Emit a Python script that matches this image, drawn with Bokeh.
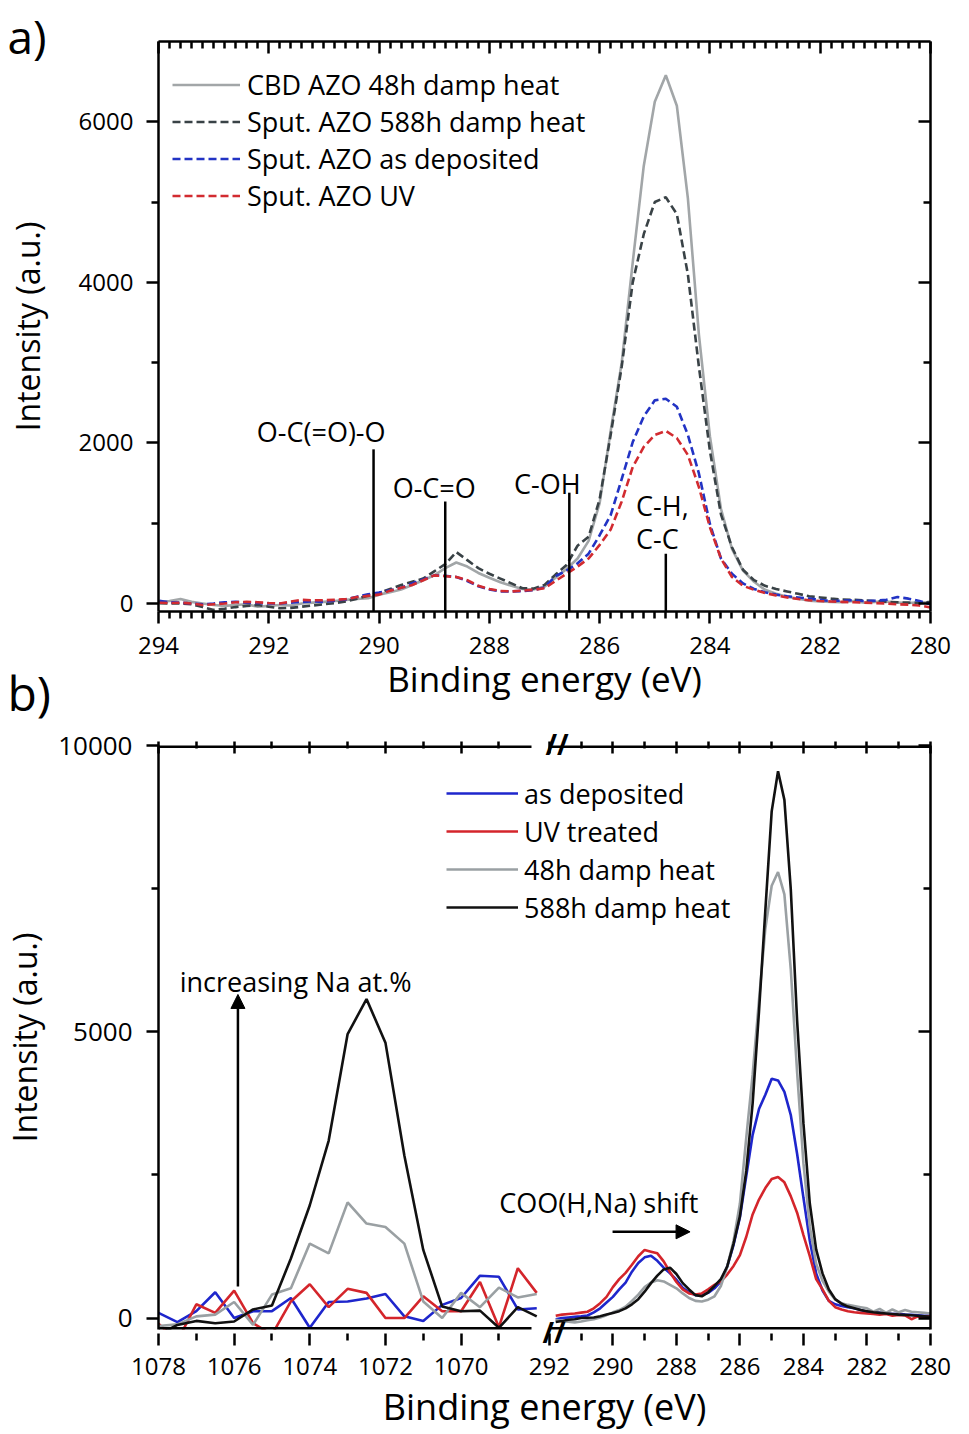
from bokeh.plotting import figure
from bokeh.models import (Range1d, LinearAxis, FixedTicker, Legend, LegendItem,
                          Label, Arrow, NormalHead, Title)
from bokeh.layouts import column
from bokeh.embed import file_html
from bokeh.resources import INLINE

FONT = "Open Sans"

# ---------------- panel a: C 1s, sputtered vs CBD AZO ----------------
energy_a = [294.2, 294.0, 293.8, 293.6, 293.4, 293.2, 293.0, 292.8, 292.6, 292.4,
            292.2, 292.0, 291.8, 291.6, 291.4, 291.2, 291.0, 290.8, 290.6, 290.4,
            290.2, 290.0, 289.8, 289.6, 289.4, 289.2, 289.0, 288.8, 288.6, 288.4,
            288.2, 288.0, 287.8, 287.6, 287.4, 287.2, 287.0, 286.8, 286.6, 286.4,
            286.2, 286.0, 285.8, 285.6, 285.4, 285.2, 285.0, 284.8, 284.6, 284.4,
            284.2, 284.0, 283.8, 283.6, 283.4, 283.2, 283.0, 282.8, 282.6, 282.4,
            282.2, 282.0, 281.8, 281.6, 281.4, 281.2, 281.0, 280.8, 280.6, 280.4,
            280.2, 280.0, 279.8]
cbd_48h = [10, 20, 30, 55, 20, 0, -20, -30, -20, -10,
           -40, -30, -20, -25, 0, 10, 20, 30, 45, 55,
           65, 110, 140, 175, 230, 290, 350, 440, 510, 460,
           380, 320, 265, 220, 180, 175, 210, 320, 430, 560,
           780, 1250, 2150, 3000, 4250, 5450, 6250, 6580, 6200, 5050,
           3350, 2080, 1180, 680, 410, 270, 170, 120, 85, 60,
           35, 25, 20, 15, 30, 10, 20, 25, 10, 5,
           15, 10, 20]
sput_588h = [10, 5, 0, 0, -10, -45, -80, -65, -45, -30,
             -20, -40, -60, -55, -40, -25, -10, 5, 25, 60,
             95, 130, 180, 230, 270, 310, 400, 490, 640, 540,
             440, 370, 310, 250, 190, 185, 230, 360, 480, 720,
             830, 1300, 2100, 2950, 4000, 4600, 5000, 5060, 4850, 4100,
             2950, 1900, 1110, 700, 420, 290, 220, 180, 150, 120,
             90, 75, 60, 50, 45, 40, 30, 20, 15, 10,
             5, 20, 40]
sput_as_dep = [55, 35, 15, 10, 0, -10, 0, 15, 20, 10,
               5, 0, 0, 10, 20, 25, 20, 35, 50, 85,
               115, 135, 165, 195, 250, 300, 350, 345, 330, 280,
               215, 175, 150, 150, 155, 165, 200, 340, 410, 500,
               620, 850, 1100, 1550, 2010, 2330, 2530, 2550, 2450, 2100,
               1620, 990, 560, 370, 250, 180, 140, 110, 90, 75,
               60, 45, 30, 35, 40, 30, 35, 45, 80, 60,
               30, -10, 50]
sput_uv = [15, 10, 5, 10, 0, -20, -10, 0, 15, 20,
           15, 5, 0, 25, 45, 40, 40, 45, 55, 80,
           95, 110, 160, 195, 230, 290, 350, 340, 330, 290,
           220, 180, 155, 150, 160, 170, 190, 280, 370, 460,
           560, 730, 920, 1270, 1700, 1950, 2100, 2150, 2060, 1850,
           1450, 950, 560, 330, 220, 170, 130, 100, 75, 55,
           40, 30, 25, 20, 15, 10, 5, 0, -10, -15,
           -25, -50, -20]

marker_energy = [290.1, 288.8, 286.55, 284.8]
marker_top = [1920, 1270, 1380, 620]
marker_text = ["O-C(=O)-O", "O-C=O", "C-OH", "C-H,", "C-C"]
marker_text_x = [291.05, 289.0, 286.95, 285.34, 285.34]
marker_text_y = [2137, 1441, 1491, 1217, 807]
marker_text_align = ["center", "center", "center", "left", "left"]

xticks_a = [294, 292, 290, 288, 286, 284, 282, 280]
yticks_a = [0, 2000, 4000, 6000]
yminor_a = [1000, 3000, 5000]

# ---------------- panel b: Na region (left) and C 1s (right) ----------------
energy_na = [1078.5, 1078.0, 1077.5, 1077.0, 1076.5, 1076.0, 1075.5, 1075.0, 1074.5, 1074.0,
             1073.5, 1073.0, 1072.5, 1072.0, 1071.5, 1071.0, 1070.5, 1070.0, 1069.5, 1069.0,
             1068.5, 1068.0]
na_as_dep = [380, 90, -70, 120, 450, 0, 120, 120, 350, -170,
             280, 290, 340, 420, 30, -50, 230, 350, 740, 720, 150, 170]
na_uv = [-160, -100, -400, 240, 90, 480, -90, -290, 290, 590,
         190, 510, 440, 0, 0, 380, 120, 120, 630, -160, 870, 440]
na_48h = [-290, -140, -110, 30, 60, 280, -120, 410, 520, 1300,
          1130, 2020, 1650, 1590, 1300, 290, 0, 440, 190, 530, 360, 420]
na_588h = [-90, -290, -120, -50, -90, -60, 150, 220, 1040, 1970,
           3100, 4960, 5570, 4810, 2840, 1190, 200, 120, 130, -170, 190, 30]

energy_c = [291.8, 291.6, 291.4, 291.2, 291.0, 290.8, 290.6, 290.4, 290.2, 290.0,
            289.8, 289.6, 289.4, 289.2, 289.0, 288.8, 288.6, 288.4, 288.2, 288.0,
            287.8, 287.6, 287.4, 287.2, 287.0, 286.8, 286.6, 286.4, 286.2, 286.0,
            285.8, 285.6, 285.4, 285.2, 285.0, 284.8, 284.6, 284.4, 284.2, 284.0,
            283.8, 283.6, 283.4, 283.2, 283.0, 282.8, 282.6, 282.4, 282.2, 282.0,
            281.8, 281.6, 281.4, 281.2, 281.0, 280.8, 280.6, 280.4, 280.2, 280.0,
            279.8]
c_as_dep = [-20, 0, 10, 20, 30, 45, 100, 170, 270, 370,
            500, 620, 810, 960, 1060, 1090, 1000, 880, 780, 670,
            530, 450, 400, 400, 440, 520, 640, 900, 1280, 1760,
            2480, 3200, 3650, 3900, 4180, 4150, 3950, 3550, 2870, 2100,
            1350, 780, 480, 300, 240, 210, 190, 170, 140, 110,
            100, 90, 80, 70, 75, 60, 55, 50, 40, 45,
            40]
c_uv = [40, 60, 70, 80, 95, 110, 170, 260, 370, 540,
        680, 790, 930, 1080, 1190, 1160, 1130, 990, 800, 630,
        500, 430, 410, 430, 500, 580, 640, 760, 910, 1100,
        1420, 1810, 2070, 2270, 2430, 2465, 2370, 2130, 1840, 1450,
        1080, 680, 500, 300, 190, 150, 120, 100, 90, 80,
        70, 60, 70, 40, 55, 45, -20, 30, 20, 30,
        40]
c_48h = [-30, -55, -65, -75, -60, -40, -20, 10, 50, 100,
         140, 200, 300, 410, 540, 620, 660, 640, 580, 520,
         430, 350, 300, 290, 320, 380, 560, 900, 1350, 2000,
         3150, 4250, 5550, 6800, 7550, 7790, 7400, 6100, 4300, 2700,
         1600, 950, 650, 460, 320, 260, 230, 210, 190, 170,
         110, 160, 90, 150, 100, 140, 110, 100, 90, 80,
         150]
c_588h = [-70, -50, -30, -20, 0, 5, 10, 30, 60, 90,
          120, 170, 240, 330, 460, 610, 740, 850, 880, 770,
          610, 500, 400, 380, 450, 560, 680, 900, 1300, 1780,
          2570, 3750, 5350, 7120, 8850, 9550, 9050, 7500, 5200, 3400,
          2000, 1200, 780, 500, 330, 250, 200, 170, 140, 120,
          100, 90, 80, 70, 60, 55, 50, 40, 30, 20,
          60]

na_ticks = [1078, 1076, 1074, 1072, 1070]
na_minor = [1077, 1075, 1073, 1071, 1069]
c_ticks = [292, 290, 288, 286, 284, 282, 280]
c_minor = [291, 289, 287, 285, 283, 281]
yticks_b = [0, 5000, 10000]
yminor_b = [2500, 7500]

# ---------------- styling ----------------
GRAY_A, DARK_A, BLUE_A, RED_A = "#a2a6a8", "#394246", "#2233c4", "#d22b30"
BLUE_B, RED_B, GRAY_B, BLACK_B = "#1e26cc", "#d4252b", "#9aa0a3", "#111111"
LW = 2.6
PAGE_W = 969


def style_axis(ax, side, ticks, label_px="24px"):
    ax.axis_line_width = 2.5
    ax.axis_line_color = "black"
    ax.major_tick_line_width = 2.5
    ax.minor_tick_line_width = 2.5
    ax.major_tick_line_color = "black"
    ax.minor_tick_line_color = "black"
    ax.major_label_text_font = FONT
    ax.major_label_text_color = "black"
    ax.axis_label_text_font = FONT
    ax.axis_label_text_font_style = "normal"
    ax.axis_label_text_color = "black"
    if side in ("below", "left"):
        ax.major_tick_out, ax.major_tick_in = 12, 0
        ax.minor_tick_out, ax.minor_tick_in = 7, 0
        ax.major_label_text_font_size = label_px
    else:
        ax.major_tick_out, ax.major_tick_in = 0, 12
        ax.minor_tick_out, ax.minor_tick_in = 0, 7
        ax.major_label_text_font_size = "10px"
        ax.major_label_standoff = 0
        ax.major_label_overrides = {t: "" for t in ticks}


def side_title(text, offset, size_px, valign="middle", extra=0.0, bold=False):
    # a title that takes no room in its side panel (negative standoff); `extra`
    # moves the text further towards the frame when valign is "top"
    h = 1.2 * size_px
    return Title(text=text, align="left", offset=offset, vertical_align=valign,
                 standoff=int(round(-(h + 2) - extra)), text_font=FONT,
                 text_font_size=f"{size_px}px", text_color="black",
                 text_font_style="bold" if bold else "normal")


# ================= panel a =================
A_LEFT, A_TOP, A_BOTTOM = 153, 41, 114
FA_W, FA_H = 777, 570
A_RIGHT = PAGE_W - A_LEFT - FA_W
pa = figure(width=PAGE_W, height=A_TOP + FA_H + A_BOTTOM,
            x_range=Range1d(294, 280), y_range=Range1d(-100, 7000),
            output_backend="svg", toolbar_location=None, title_location=None,
            min_border_left=A_LEFT, min_border_right=A_RIGHT,
            min_border_top=A_TOP, min_border_bottom=A_BOTTOM)
pa.grid.visible = False
pa.outline_line_color = None
pa.background_fill_color = "white"
pa.border_fill_color = "white"

minor_a = [round(280 + 0.2 * i, 1) for i in range(71)]
minor_a = [m for m in minor_a if abs(m - round(m)) > 1e-6 or int(round(m)) % 2 == 1]

pa.xaxis.ticker = FixedTicker(ticks=xticks_a, minor_ticks=minor_a)
pa.yaxis.ticker = FixedTicker(ticks=yticks_a, minor_ticks=yminor_a)
style_axis(pa.xaxis[0], "below", xticks_a)
style_axis(pa.yaxis[0], "left", yticks_a)
pa.xaxis.axis_label = "Binding energy (eV)"
pa.xaxis.axis_label_text_font_size = "35px"
pa.xaxis.major_label_standoff = 13
pa.xaxis.axis_label_standoff = -2
pa.yaxis.axis_label = "Intensity (a.u.)"
pa.yaxis.axis_label_text_font_size = "32px"
pa.yaxis.major_label_standoff = 13
pa.yaxis.axis_label_standoff = 27

top_a = LinearAxis(ticker=FixedTicker(ticks=xticks_a, minor_ticks=minor_a))
style_axis(top_a, "above", xticks_a)
pa.add_layout(top_a, "above")
right_a = LinearAxis(ticker=FixedTicker(ticks=yticks_a, minor_ticks=yminor_a))
style_axis(right_a, "right", yticks_a)
pa.add_layout(right_a, "right")

r_a1 = pa.line(energy_a, cbd_48h, line_color=GRAY_A, line_width=LW)
r_a2 = pa.line(energy_a, sput_588h, line_color=DARK_A, line_width=LW, line_dash="8 4")
r_a3 = pa.line(energy_a, sput_as_dep, line_color=BLUE_A, line_width=LW, line_dash="8 4")
r_a4 = pa.line(energy_a, sput_uv, line_color=RED_A, line_width=LW, line_dash="8 4")

pa.segment(x0=marker_energy, y0=[-100] * len(marker_energy), x1=marker_energy, y1=marker_top,
           line_color="black", line_width=2.5)
for t, x, y, al in zip(marker_text, marker_text_x, marker_text_y, marker_text_align):
    pa.add_layout(Label(x=x, y=y, text=t, text_align=al, text_baseline="alphabetic",
                        text_font=FONT, text_font_size="27px", text_color="black"))

ITEM_A = 37
leg_a = Legend(items=[LegendItem(label="CBD AZO 48h damp heat", renderers=[r_a1]),
                      LegendItem(label="Sput. AZO 588h damp heat", renderers=[r_a2]),
                      LegendItem(label="Sput. AZO as deposited", renderers=[r_a3]),
                      LegendItem(label="Sput. AZO UV", renderers=[r_a4])],
               location=(14, FA_H - 25 - 4 * ITEM_A),
               glyph_width=68, glyph_height=ITEM_A, label_height=ITEM_A, label_standoff=7,
               spacing=0, padding=0, margin=0, border_line_color=None,
               background_fill_alpha=0, label_text_font=FONT, label_text_font_size="27px",
               label_text_color="black")
pa.add_layout(leg_a)

# panel letters, drawn as side-panel titles so that they are not clipped by the frame
pa.add_layout(side_title("a)", -(A_LEFT - 2), 46, valign="top", extra=16), "above")
pa.add_layout(side_title("b)", -(A_LEFT - 2), 48, valign="top", extra=30), "below")

# ================= panel b (broken x axis) =================
B_LEFT, B_TOP, B_BOTTOM = 150, 20, 102
FB_W, FB_H = 796, 586
B_RIGHT = PAGE_W - B_LEFT - FB_W
LEFT_W, RIGHT_W = 390, 393
sL = LEFT_W / (na_ticks[0] - 1068.0)
sR = RIGHT_W / (c_ticks[0] - c_ticks[-1])
na_end = na_ticks[0] - FB_W / sL
c_start = c_ticks[-1] + FB_W / sR


def na_pos(e):
    return c_start - (na_ticks[0] - e) * sL / sR


pb = figure(width=PAGE_W, height=B_TOP + FB_H + B_BOTTOM,
            x_range=Range1d(c_start, c_ticks[-1]), y_range=Range1d(-200, 10000),
            output_backend="svg", toolbar_location=None, title_location=None,
            x_axis_location=None,
            min_border_left=B_LEFT, min_border_right=B_RIGHT,
            min_border_top=B_TOP, min_border_bottom=B_BOTTOM)
pb.extra_x_ranges = {"na": Range1d(na_ticks[0], na_end)}
pb.grid.visible = False
pb.outline_line_color = None
pb.background_fill_color = "white"
pb.border_fill_color = "white"

major_b = [na_pos(e) for e in na_ticks] + c_ticks
minor_b = [na_pos(e) for e in na_minor] + c_minor
labels_b = {na_pos(e): str(e) for e in na_ticks}
labels_b.update({e: str(e) for e in c_ticks})

# break marks: zero-height titles centred on the frame edges, nearest the frame
BREAK_OFFSET = 384
pb.add_layout(side_title("//", BREAK_OFFSET, 28, bold=True), "below")
pb.add_layout(side_title("//", BREAK_OFFSET + 3, 28, bold=True), "above")

bottom_b = LinearAxis(ticker=FixedTicker(ticks=major_b, minor_ticks=minor_b))
style_axis(bottom_b, "below", major_b)
bottom_b.major_label_overrides = labels_b
bottom_b.axis_line_color = None
bottom_b.axis_label = "Binding energy (eV)"
bottom_b.axis_label_text_font_size = "36px"
bottom_b.major_label_standoff = 12
bottom_b.axis_label_standoff = 4
pb.add_layout(bottom_b, "below")

top_b = LinearAxis(ticker=FixedTicker(ticks=major_b, minor_ticks=minor_b))
style_axis(top_b, "above", major_b)
top_b.axis_line_color = None
pb.add_layout(top_b, "above")

# axis lines with a gap at the break (bounded lines for each part of the x axis)
for loc, side in ((-200, "below"), (10000, "above")):
    for rng, bnds in (("na", (1068.15, na_ticks[0])), ("default", (c_ticks[-1], c_ticks[0]))):
        ln = LinearAxis(x_range_name=rng, fixed_location=loc, bounds=bnds,
                        ticker=FixedTicker(ticks=[]), axis_line_width=5, axis_line_color="black",
                        major_tick_in=0, major_tick_out=0, minor_tick_in=0, minor_tick_out=0)
        pb.add_layout(ln, side)

pb.yaxis.ticker = FixedTicker(ticks=yticks_b, minor_ticks=yminor_b)
style_axis(pb.yaxis[0], "left", yticks_b, "26px")
pb.yaxis.axis_label = "Intensity (a.u.)"
pb.yaxis.axis_label_text_font_size = "32px"
pb.yaxis.major_label_standoff = 14
pb.yaxis.axis_label_standoff = 9
right_b = LinearAxis(ticker=FixedTicker(ticks=yticks_b, minor_ticks=yminor_b))
style_axis(right_b, "right", yticks_b)
pb.add_layout(right_b, "right")

rb1 = pb.line(energy_c, c_as_dep, line_color=BLUE_B, line_width=LW)
rb2 = pb.line(energy_c, c_uv, line_color=RED_B, line_width=LW)
rb3 = pb.line(energy_c, c_48h, line_color=GRAY_B, line_width=LW)
rb4 = pb.line(energy_c, c_588h, line_color=BLACK_B, line_width=LW)
pb.line(energy_na, na_as_dep, x_range_name="na", line_color=BLUE_B, line_width=LW)
pb.line(energy_na, na_uv, x_range_name="na", line_color=RED_B, line_width=LW)
pb.line(energy_na, na_48h, x_range_name="na", line_color=GRAY_B, line_width=LW)
pb.line(energy_na, na_588h, x_range_name="na", line_color=BLACK_B, line_width=LW)

ITEM_B = 38
leg_b = Legend(items=[LegendItem(label="as deposited", renderers=[rb1]),
                      LegendItem(label="UV treated", renderers=[rb2]),
                      LegendItem(label="48h damp heat", renderers=[rb3]),
                      LegendItem(label="588h damp heat", renderers=[rb4])],
               location=(288, FB_H - 31 - 4 * ITEM_B),
               glyph_width=72, glyph_height=ITEM_B, label_height=ITEM_B, label_standoff=6,
               spacing=0, padding=0, margin=0, border_line_color=None,
               background_fill_alpha=0, label_text_font=FONT, label_text_font_size="27px",
               label_text_color="black")
pb.add_layout(leg_b)

pb.add_layout(Label(x=1077.44, y=5878, x_range_name="na", text="increasing Na at.%",
                    text_font=FONT, text_font_size="27px", text_baseline="alphabetic",
                    text_color="black"))
pb.add_layout(Arrow(end=NormalHead(size=14, fill_color="black", line_color="black"),
                    x_start=1075.9, y_start=551, x_end=1075.9, y_end=5652,
                    x_range_name="na", line_width=2.5, line_color="black"))
pb.add_layout(Label(x=287.31, y=2017, text="COO(H,Na) shift", text_align="right",
                    text_font=FONT, text_font_size="27px", text_baseline="alphabetic",
                    text_color="black"))
pb.add_layout(Arrow(end=NormalHead(size=14, fill_color="black", line_color="black"),
                    x_start=290.01, y_start=1506, x_end=287.57, y_end=1506,
                    line_width=2.5, line_color="black"))

layout = column(pa, pb)
open("out.html", "w").write(file_html(layout, INLINE))
